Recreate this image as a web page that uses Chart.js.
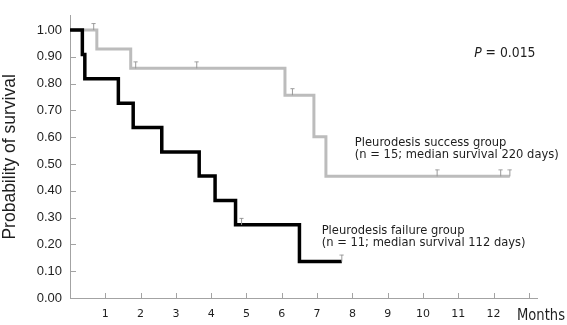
<!DOCTYPE html>
<html>
<head>
<meta charset="utf-8">
<script src="https://cdn.jsdelivr.net/npm/chart.js@4.4.1/dist/chart.umd.min.js"></script>
<style>
  html, body { margin: 0; padding: 0; background: #fff; }
  #wrap { width: 567px; height: 325px; position: relative; }
</style>
</head>
<body>
<div id="wrap"><canvas id="kmChart"></canvas></div>
<script>
// Kaplan-Meier steps, time in months
const failureTimes = [0, 0.35, 0.42, 1.37, 1.79, 2.6, 3.66, 4.11, 4.69, 6.5, 7.7];
const failureSurv = [1.0, 0.909, 0.818, 0.727, 0.636, 0.545, 0.455, 0.364, 0.273, 0.136, 0.136];
const failureCensorTimes = [4.86, 7.7];
const failureCensorSurv = [0.273, 0.136];

const successTimes = [0, 0.76, 1.72, 6.09, 6.91, 7.25, 12.46];
const successSurv = [1.0, 0.929, 0.857, 0.757, 0.602, 0.454, 0.454];
const successCensorTimes = [0.67, 1.86, 3.59, 6.3, 10.4, 12.2, 12.46];
const successCensorSurv = [1.0, 0.857, 0.857, 0.757, 0.454, 0.454, 0.454];

const xTickValues = [1, 2, 3, 4, 5, 6, 7, 8, 9, 10, 11, 12, 13];
const xTickLabels = ['1', '2', '3', '4', '5', '6', '7', '8', '9', '10', '11', '12', ''];
const yTickValues = [0, 0.1, 0.2, 0.3, 0.4, 0.5, 0.6, 0.7, 0.8, 0.9, 1.0];

const axisColor = '#a3a3a3';
const textColor = '#1e1e1e';

const toPoints = (xs, ys) => xs.map((t, i) => ({ x: t, y: ys[i] }));

// small "T" used for censored cases
function censorMark() {
    const c = document.createElement('canvas');
    c.width = 5;
    c.height = 16;
    const g = c.getContext('2d');
    g.strokeStyle = '#999999';
    g.lineWidth = 1;
    g.beginPath();
    g.moveTo(2.5, 8);
    g.lineTo(2.5, 1.5);
    g.moveTo(0.5, 1.5);
    g.lineTo(4.5, 1.5);
    g.stroke();
    return c;
}
const mark = censorMark();

function drawText(ctx, str, px, py, font, sx) {
    ctx.save();
    ctx.translate(px, py);
    ctx.scale(sx, 1);
    ctx.font = font;
    ctx.fillText(str, 0, 0);
    const w = ctx.measureText(str).width * sx;
    ctx.restore();
    return w;
}

const innerTicks = {
    id: 'innerTicks',
    beforeDatasetsDraw(chart) {
        const { ctx, chartArea, scales: { x, y } } = chart;
        ctx.save();
        ctx.strokeStyle = axisColor;
        ctx.lineWidth = 1;
        ctx.beginPath();
        x.ticks.forEach(t => {
            const px = Math.round(x.getPixelForValue(t.value)) + 0.5;
            ctx.moveTo(px, chartArea.bottom);
            ctx.lineTo(px, chartArea.bottom - 5);
        });
        y.ticks.forEach(t => {
            const py = Math.round(y.getPixelForValue(t.value)) + 0.5;
            ctx.moveTo(chartArea.left, py);
            ctx.lineTo(chartArea.left + 6, py);
        });
        ctx.stroke();
        ctx.restore();
    }
};

const labels = {
    id: 'kmLabels',
    afterDraw(chart) {
        const { ctx, scales: { x, y } } = chart;
        ctx.save();
        ctx.fillStyle = textColor;
        ctx.textBaseline = 'alphabetic';
        const f = '12.8px "DejaVu Sans"';
        drawText(ctx, 'Pleurodesis success group', x.getPixelForValue(8.07), y.getPixelForValue(0.569), f, 0.9);
        drawText(ctx, '(n = 15; median survival 220 days)', x.getPixelForValue(8.07), y.getPixelForValue(0.523), f, 0.9);
        drawText(ctx, 'Pleurodesis failure group', x.getPixelForValue(7.13), y.getPixelForValue(0.240), f, 0.9);
        drawText(ctx, '(n = 11; median survival 112 days)', x.getPixelForValue(7.13), y.getPixelForValue(0.193), f, 0.9);

        const px = x.getPixelForValue(11.45);
        const py = y.getPixelForValue(0.9);
        const w = drawText(ctx, 'P', px, py, 'italic 13.5px "DejaVu Sans"', 0.92);
        drawText(ctx, ' = 0.015', px + w, py, '13.5px "DejaVu Sans"', 0.92);

        drawText(ctx, 'Months', 517, 320, '15px "DejaVu Sans"', 0.875);
        ctx.restore();
    }
};

new Chart(document.getElementById('kmChart'), {
    type: 'line',
    data: {
        datasets: [
            {
                label: 'failure censored',
                data: toPoints(failureCensorTimes, failureCensorSurv),
                showLine: false,
                pointStyle: mark,
                pointRadius: 3
            },
            {
                label: 'success censored',
                data: toPoints(successCensorTimes, successCensorSurv),
                showLine: false,
                pointStyle: mark,
                pointRadius: 3
            },
            {
                label: 'Pleurodesis failure group',
                data: toPoints(failureTimes, failureSurv),
                stepped: 'before',
                borderColor: '#000000',
                borderWidth: 3.5,
                pointRadius: 0,
                fill: false
            },
            {
                label: 'Pleurodesis success group',
                data: toPoints(successTimes, successSurv),
                stepped: 'before',
                borderColor: '#bcbcbc',
                borderWidth: 3,
                pointRadius: 0,
                fill: false
            }
        ]
    },
    options: {
        responsive: true,
        maintainAspectRatio: false,
        animation: false,
        layout: { padding: { left: 0, right: 30, top: 0, bottom: 0 } },
        plugins: {
            legend: { display: false },
            tooltip: { enabled: false }
        },
        scales: {
            x: {
                type: 'linear',
                min: 0,
                max: 13.23,
                afterBuildTicks: scale => { scale.ticks = xTickValues.map(v => ({ value: v })); },
                afterFit: scale => { scale.height = 27; },
                grid: { drawOnChartArea: false, drawTicks: false },
                border: { color: axisColor, width: 1 },
                ticks: {
                    padding: 10,
                    color: textColor,
                    font: { family: 'DejaVu Sans', size: 11 },
                    maxRotation: 0,
                    autoSkip: false,
                    callback: (v, i) => xTickLabels[i]
                }
            },
            y: {
                min: 0,
                max: 1.053,
                afterBuildTicks: scale => { scale.ticks = yTickValues.map(v => ({ value: v })); },
                afterFit: scale => { scale.width = 70; },
                grid: { drawOnChartArea: false, drawTicks: false },
                border: { color: axisColor, width: 1 },
                title: {
                    display: true,
                    text: 'Probability of survival',
                    color: textColor,
                    font: { family: 'Liberation Sans', size: 17.5 },
                    padding: { top: 0, bottom: 0 }
                },
                ticks: {
                    padding: 8,
                    color: textColor,
                    font: { family: 'Liberation Sans', size: 13 },
                    callback: v => v.toFixed(2)
                }
            }
        }
    },
    plugins: [innerTicks, labels]
});
</script>
</body>
</html>
